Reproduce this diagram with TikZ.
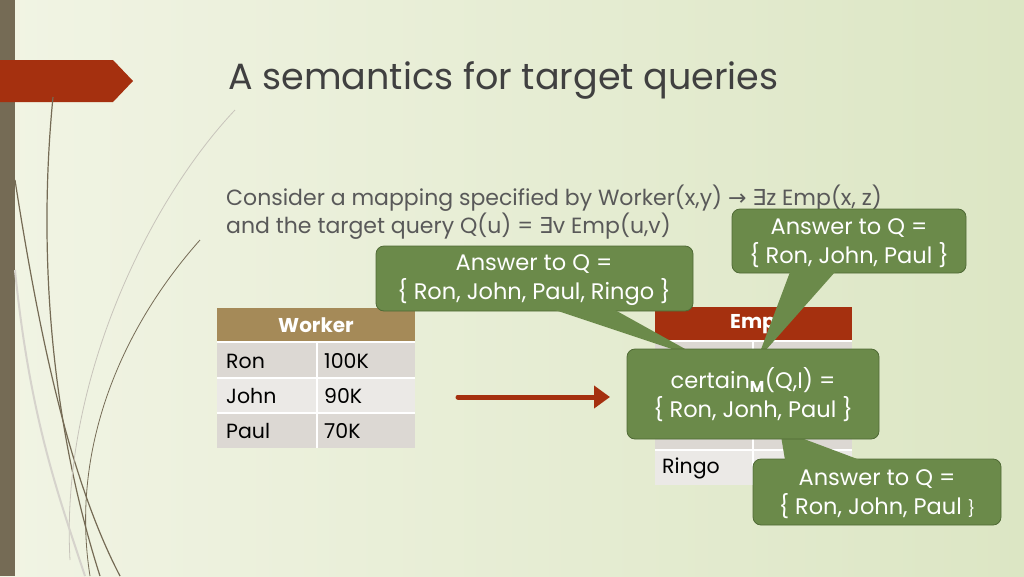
\documentclass[tikz,border=0pt]{standalone}
\usepackage{fontspec}
\setmainfont{Poppins}
\newfontfamily\symf{DejaVu Sans}
\usetikzlibrary{arrows.meta}
\definecolor{bgl}{HTML}{F1F4E4}
\definecolor{bgr}{HTML}{DCE6C4}
\definecolor{barc}{HTML}{756B55}
\definecolor{redc}{HTML}{A5300F}
\definecolor{brownc}{HTML}{A58A58}
\definecolor{rowa}{HTML}{DCD8D3}
\definecolor{rowb}{HTML}{EBE9E6}
\definecolor{calf}{HTML}{6B8A4A}
\definecolor{cald}{HTML}{4F6A35}
\definecolor{txt}{HTML}{595959}
\tikzset{
 callout/.style={fill=calf,draw=cald,line width=0.8pt,rounded corners=8pt},
 caltext/.style={text=white,font=\fontsize{22.5}{29}\selectfont,align=center},
 cell/.style={font=\fontsize{20.5}{22}\selectfont,text=black,anchor=west,inner sep=0pt},
 grass/.style={draw=barc,line width=1.2pt},
}
\begin{document}
\begin{tikzpicture}[x=1pt,y=-1pt]
\useasboundingbox (0,0) rectangle (1024,576);
\shade[left color=bgl,right color=bgr] (0,0) rectangle (1024,576);
\fill[barc] (0,0) rectangle (15,576);
\fill[redc] (0,60) -- (113,60) -- (133,81) -- (113,102) -- (0,102) -- cycle;
% grass
\draw[grass] (53,97) .. controls (38,250) and (50,420) .. (100,576);
\draw[grass] (15,180) .. controls (40,340) and (70,480) .. (120,576);
\draw[grass,line width=0.8pt] (200,240) .. controls (120,330) and (70,450) .. (90,576);
\draw[draw=barc!40,line width=0.8pt] (235,110) .. controls (150,200) and (60,380) .. (70,560);
\draw[draw=barc!30,line width=2pt] (15,270) .. controls (30,420) and (60,500) .. (85,576);
\node[anchor=west,inner sep=0pt,text=black!75,font=\fontsize{36.5}{40}\selectfont] (title) at (228,80) {A semantics for target queries};
\node[anchor=west,inner sep=0pt,text=txt,font=\fontsize{22}{28}\selectfont,align=left] (body) at (226,212)
 {Consider a mapping specified by Worker(x,y) {\symf →} {\symf ∃}z Emp(x, z)\\and the target query Q(u) = {\symf ∃}v Emp(u,v)};
% Worker table
\fill[brownc] (217,308) rectangle (415,342);
\node[text=white,font=\bfseries\fontsize{20}{22}\selectfont] (wh) at (316,325) {Worker};
\fill[rowa] (217,342) rectangle (415,378);
\fill[rowb] (217,378) rectangle (415,413);
\fill[rowa] (217,413) rectangle (415,448);
\draw[white,line width=1.5pt] (217,342) -- (415,342) (217,378) -- (415,378) (217,413) -- (415,413) (317,342) -- (317,448);
\node[cell] (w1) at (226,361) {Ron}; \node[cell] (w1b) at (324,361) {100K};
\node[cell] (w2) at (226,396) {John}; \node[cell] (w2b) at (324,396) {90K};
\node[cell] (w3) at (226,431) {Paul}; \node[cell] (w3b) at (324,431) {70K};
% arrow
\coordinate (as) at (458,397); \coordinate (ae) at (610,397);
\draw[redc,line width=5pt,line cap=round,-{Triangle[length=16pt,width=22pt]}] (as) -- (ae);
% Emp table
\fill[redc] (655,307) rectangle (852,341);
\node[text=white,font=\bfseries\fontsize{20}{22}\selectfont] (eh) at (753,324) {Emp};
\fill[rowa] (655,341) rectangle (852,378);
\fill[rowb] (655,378) rectangle (852,414);
\fill[rowa] (655,414) rectangle (852,450);
\fill[rowb] (655,450) rectangle (852,485);
\draw[white,line width=1.5pt] (655,341) -- (852,341) (655,378) -- (852,378) (655,414) -- (852,414) (655,450) -- (852,450) (753,341) -- (753,485);
\node[cell] (e4) at (662,468) {Ringo};
% callouts
\draw[callout] (376,246) rectangle (693,311);
\fill[calf] (555,310) -- (615,310) -- (705,360) -- cycle;
\node[caltext] (c1) at (534,280) {Answer to Q =\\\{ Ron, John, Paul, Ringo \}};
\draw[callout] (732,209) rectangle (966,273);
\fill[calf] (790,272) -- (835,272) -- (757,360) -- cycle;
\node[caltext] (c2) at (849,243) {Answer to Q =\\\{ Ron, John, Paul \}};
\draw[callout] (753,459) rectangle (1001,525);
\fill[calf] (785,460) -- (860,460) -- (780,430) -- cycle;
\node[caltext] (c4) at (877,494) {Answer to Q =\\\{ Ron, John, Paul {\fontsize{16}{20}\selectfont\}}};
\draw[callout] (627,349) rectangle (879,439);
\node[caltext] (c3) at (753,395) {certain\textsubscript{\bfseries M}(Q,I) =\\\{ Ron, Jonh, Paul \}};
\end{tikzpicture}
\end{document}
